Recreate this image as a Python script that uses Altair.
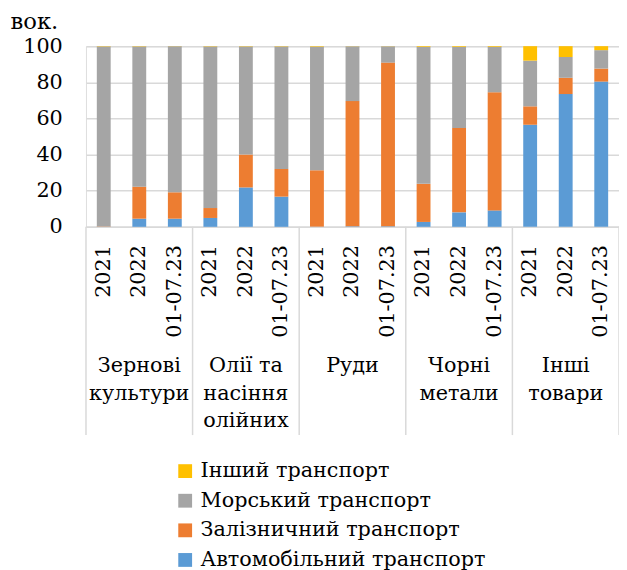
import altair as alt
import pandas as pd

groups = ["Зернові\nкультури", "Олії та\nнасіння\nолійних", "Руди", "Чорні\nметали", "Інші\nтовари"]
periods = ["2021", "2022", "01-07.23"]

series = ["Автомобільний транспорт", "Залізничний транспорт", "Морський транспорт", "Інший транспорт"]
colors = ["#5B9BD5", "#ED7D31", "#A5A5A5", "#FFC000"]

auto = [0.0, 4.5, 4.5, 4.9, 21.8, 16.7, 0.1, 0.3, 0.3, 2.7, 8.0, 9.1, 56.5, 73.5, 80.4]
rail = [0.2, 17.7, 14.6, 5.5, 18.2, 15.3, 31.2, 69.3, 90.6, 21.1, 46.7, 65.4, 10.2, 9.0, 7.2]
sea = [99.6, 77.6, 80.8, 89.4, 59.8, 67.8, 68.4, 30.3, 9.0, 75.8, 44.9, 25.1, 25.3, 11.5, 10.2]
other = [0.2, 0.2, 0.1, 0.2, 0.2, 0.2, 0.3, 0.1, 0.1, 0.4, 0.4, 0.4, 8.0, 6.0, 2.2]

FONT = "DejaVu Serif"
FS = 21

keys = [f"{gi}|{p}" for gi in range(len(groups)) for p in periods]
rows = []
for i, k in enumerate(keys):
    for si, (s, vals) in enumerate(zip(series, [auto, rail, sea, other])):
        rows.append({"key": k, "series": s, "value": vals[i], "ord": si})
df = pd.DataFrame(rows)

glab = pd.DataFrame({"key": [f"{gi}|{periods[1]}" for gi in range(len(groups))], "label": groups})
sep_start = pd.DataFrame({"key": [f"{gi}|{periods[0]}" for gi in range(len(groups))]})
sep_end = pd.DataFrame({"key": [keys[-1]]})

xscale = alt.Scale(domain=keys, paddingInner=0, paddingOuter=0)

bars = alt.Chart(df).mark_bar(width={"band": 0.39}).encode(
    x=alt.X("key:N", scale=xscale, sort=keys, title=None,
            axis=alt.Axis(labelExpr="split(datum.value, '|')[1]", labelAngle=270,
                          ticks=False, labelPadding=18, labelFontSize=FS, labelFont=FONT,
                          labelColor="#000000", domainColor="#D9D9D9", domainWidth=1.5,
                          grid=False)),
    y=alt.Y("value:Q", stack="zero",
            scale=alt.Scale(domain=[0, 100], nice=False),
            axis=alt.Axis(values=[0, 20, 40, 60, 80, 100], ticks=False, domain=False,
                          labelPadding=24, labelFontSize=FS, labelFont=FONT, labelColor="#000000",
                          gridColor="#D9D9D9", gridWidth=1.5,
                          title="вок.", titleAngle=0, titleAlign="left", titleBaseline="alphabetic",
                          titleX=-77, titleY=-18, titleFont=FONT, titleFontSize=23,
                          titleFontWeight="normal", titleColor="#000000")),
    color=alt.Color("series:N",
                    scale=alt.Scale(domain=series[::-1], range=colors[::-1]),
                    legend=alt.Legend(title=None, orient="none", legendX=90, legendY=420,
                                      symbolType="square", symbolSize=196, symbolStrokeWidth=0,
                                      labelFont=FONT, labelFontSize=FS, labelColor="#000000",
                                      labelOffset=5, rowPadding=8, labelLimit=500, padding=0)),
    order=alt.Order("ord:Q", sort="ascending"),
)

labels = alt.Chart(glab).mark_text(
    font=FONT, fontSize=FS, lineBreak="\n", lineHeight=28, baseline="top", align="center",
    color="#000000"
).encode(
    x=alt.X("key:N", scale=xscale, sort=keys),
    y=alt.value(313),
    text="label:N",
)

rule_a = alt.Chart(sep_start).mark_rule(color="#D9D9D9", strokeWidth=1.5).encode(
    x=alt.X("key:N", scale=xscale, sort=keys, bandPosition=0),
    y=alt.value(183),
    y2=alt.value(394),
)
rule_b = alt.Chart(sep_end).mark_rule(color="#D9D9D9", strokeWidth=1.5).encode(
    x=alt.X("key:N", scale=xscale, sort=keys, bandPosition=1),
    y=alt.value(183),
    y2=alt.value(394),
)

chart = alt.layer(bars, rule_a, rule_b, labels).properties(
    width=540, height=183,
    autosize=alt.AutoSizeParams(type="none"),
    padding={"left": 79, "top": 35, "right": 0, "bottom": 344},
).configure_view(stroke=None).configure(font=FONT)

chart.save("out.html", embed_options={"renderer": "svg", "actions": False})
